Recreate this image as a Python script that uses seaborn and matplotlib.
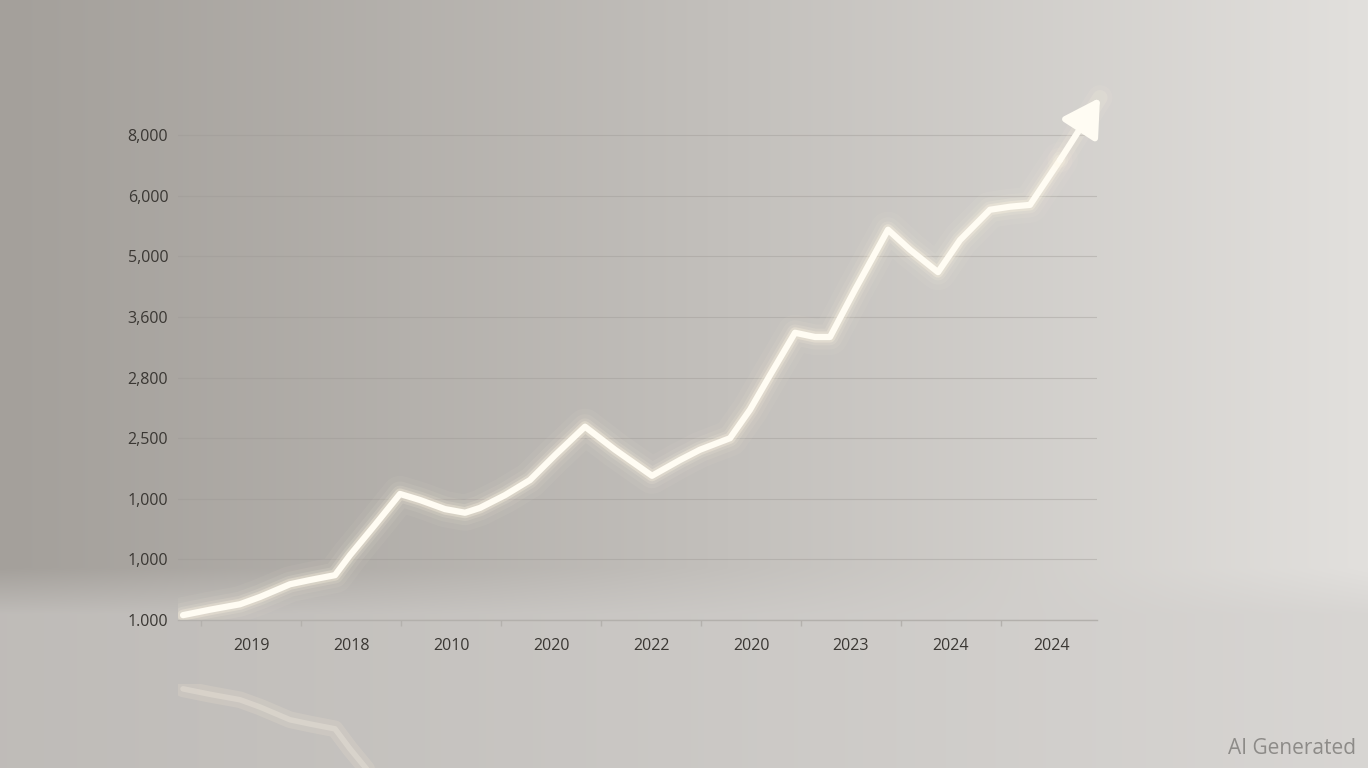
import numpy as np
import pandas as pd
import matplotlib
matplotlib.use("Agg")
import matplotlib.pyplot as plt
import seaborn as sns

# ── data (positions in tick units) ────────────────────────────────────
x_labels = ["2019", "2018", "2010", "2020", "2022", "2020", "2023", "2024", "2024"]
y_labels = ["1.000", "1,000", "1,000", "2,500", "2,800", "3,600", "5,000", "6,000", "8,000"]

line_x = [-0.68, -0.41, -0.11, 0.09, 0.39, 0.59, 0.84, 0.99, 1.24, 1.49, 1.69, 1.94,
          2.14, 2.29, 2.54, 2.79, 3.04, 3.34, 3.64, 4.01, 4.29, 4.49, 4.79, 4.99,
          5.19, 5.44, 5.64, 5.79, 6.04, 6.37, 6.59, 6.87, 7.09, 7.39, 7.59, 7.79,
          8.09]
line_y = [0.08, 0.17, 0.26, 0.38, 0.59, 0.66, 0.74, 1.07, 1.57, 2.08, 1.98, 1.83,
          1.77, 1.85, 2.06, 2.31, 2.72, 3.19, 2.81, 2.38, 2.64, 2.81, 3.00, 3.47,
          4.04, 4.74, 4.67, 4.67, 5.45, 6.44, 6.11, 5.74, 6.27, 6.77, 6.82, 6.85,
          7.59]
arrow_tip = (8.49, 8.62)

df = pd.DataFrame({"x": line_x, "y": line_y})

sns.set_theme(style="white")
plt.rcParams["font.family"] = ["Open Sans", "DejaVu Sans"]

W, H = 1368, 768
fig = plt.figure(figsize=(W / 100, H / 100), dpi=100)

# ── background gradient ────────────────────────────────────────────────
bg = fig.add_axes([0, 0, 1, 1], zorder=-10)
gx = np.linspace(0, 1, W)[None, :]
gy = np.linspace(0, 1, H)[:, None]
left = np.array([164, 160, 155]) / 255
right = np.array([226, 224, 221]) / 255
t = np.clip(gx ** 1.1, 0, 1)
img = left[None, None, :] * (1 - t[..., None]) + right[None, None, :] * t[..., None]
img = np.repeat(img, H, axis=0)
floor = np.clip((gy - 0.74) / 0.06, 0, 1)[..., None]
img = img * (1 - 0.6 * floor) + np.array([0.82, 0.81, 0.80]) * 0.6 * floor
bg.imshow(img, aspect="auto", extent=[0, 1, 0, 1])
bg.set_axis_off()

# ── main axes ──────────────────────────────────────────────────────────
ax = fig.add_axes([178 / W, 148 / H, (1097 - 178) / W, 540 / H])
ax.patch.set_alpha(0)

# glow layers
for lw, a in [(26, 0.05), (18, 0.08), (12, 0.14), (8, 0.3)]:
    sns.lineplot(data=df, x="x", y="y", ax=ax, color="#fff6e2", lw=lw, alpha=a,
                 solid_capstyle="round", solid_joinstyle="round", sort=False)
sns.lineplot(data=df, x="x", y="y", ax=ax, color="#fffcf3", lw=4.5,
             solid_capstyle="round", solid_joinstyle="round", sort=False)
for lw, a in [(18, 0.08), (11, 0.15)]:
    ax.annotate("", xy=arrow_tip, xytext=(line_x[-1], line_y[-1]),
                annotation_clip=False,
                arrowprops=dict(arrowstyle="-", lw=lw, color="#fff6e2", alpha=a,
                                shrinkA=0, shrinkB=0))
ax.annotate("", xy=arrow_tip, xytext=(line_x[-1], line_y[-1]),
            annotation_clip=False,
            arrowprops=dict(arrowstyle="-|>,head_length=1.3,head_width=0.75",
                            mutation_scale=17, lw=4.5, color="#fffcf3",
                            shrinkA=0, shrinkB=0))

ax.set_xlim(-0.73, 8.46)
ax.set_ylim(0, 540 / 60.6)
ax.set_yticks(range(len(y_labels)))
ax.set_yticklabels(y_labels)
ax.set_xticks(range(len(x_labels)))
ax.set_xticklabels(x_labels)
ax.set_xticks(np.arange(-0.5, 8.5, 1.0), minor=True)
ax.grid(axis="y", color="#9c9894", lw=0.8, alpha=0.4)
ax.tick_params(axis="y", length=0, pad=7, labelsize=11.5, labelcolor="#3a3733")
ax.tick_params(axis="x", which="major", length=5, color="#a9a6a2", pad=8,
               labelsize=11.5, labelcolor="#3a3733")
ax.tick_params(axis="x", which="minor", length=4, color="#b4b1ad", bottom=True)
for s in ["top", "right", "left"]:
    ax.spines[s].set_visible(False)
ax.spines["bottom"].set_color("#b3b0ac")
ax.spines["bottom"].set_linewidth(1.0)
ax.set_xlabel("")
ax.set_ylabel("")

# faint reflection on the floor
ref = fig.add_axes([178 / W, (H - 684 - 540) / H, (1097 - 178) / W, 540 / H])
ref.patch.set_alpha(0)
sns.lineplot(data=df, x="x", y="y", ax=ref, color="#fff0d8", lw=12, alpha=0.15,
             sort=False)
sns.lineplot(data=df, x="x", y="y", ax=ref, color="#fff8ea", lw=4, alpha=0.25,
             sort=False)
ref.set_xlim(-0.73, 8.46)
ref.set_ylim(540 / 60.6, 0)
ref.set_axis_off()

fig.text(1356 / W, (H - 748) / H, "AI Generated", ha="right", va="center",
         fontsize=15, color="#8d8b88")

fig.savefig("out.png", dpi=100)
